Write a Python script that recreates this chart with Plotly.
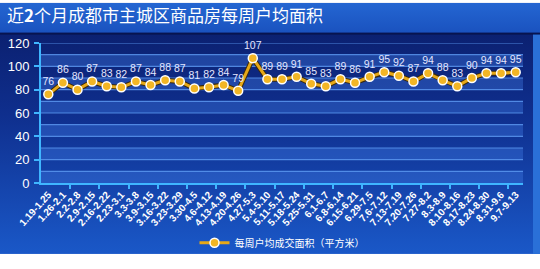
import base64
import plotly.graph_objects as go

weeks = ["1.19-1.25", "1.26-2.1", "2.2-2.8", "2.9-2.15", "2.16-2.22", "2.23-3.1",
         "3.3-3.8", "3.9-3.15", "3.16-3.22", "3.23-3.29", "3.30-4.5", "4.6-4.12",
         "4.13-4.19", "4.20-4.26", "4.27-5.3", "5.4-5.10", "5.11-5.17", "5.18-5.24",
         "5.25-5.31", "6.1-6.7", "6.8-6.14", "6.15-6.21", "6.29-7.5", "7.6-7.12",
         "7.13-7.19", "7.20-7.26", "7.27-8.2", "8.3-8.9", "8.10-8.16", "8.17-8.23",
         "8.24-8.30", "8.31-9.6", "9.7-9.13"]
area = [76, 86, 80, 87, 83, 82, 87, 84, 88, 87, 81, 82, 84, 79, 107, 89, 89, 91,
        85, 83, 89, 86, 91, 95, 92, 87, 94, 88, 83, 90, 94, 94, 95]
y_ticks = [0, 20, 40, 60, 80, 100, 120]
title_text = "近<b>2</b>个月成都市主城区商品房每周户均面积"
series_name = "每周户均成交面积（平方米）"

W, H = 540, 269
ML, MR, MT, MB = 41, 17, 43, 76
PW, PH = W - ML - MR, H - MT - MB

def px_to_paper_y(py):
    return (H - MB - py) / PH

def px_to_paper_x(px):
    return (px - ML) / PW

svg = f'''<svg xmlns="http://www.w3.org/2000/svg" width="{W}" height="{H}" preserveAspectRatio="none" viewBox="0 0 {W} {H}">
<defs><linearGradient id="g" x1="0" y1="0" x2="0" y2="1">
<stop offset="0" stop-color="#0a1b66"/>
<stop offset="0.45" stop-color="#0f2f8e"/>
<stop offset="1" stop-color="#1a58c8"/>
</linearGradient>
<linearGradient id="t" x1="0" y1="0" x2="0" y2="1">
<stop offset="0" stop-color="#2466d2"/>
<stop offset="1" stop-color="#1a52bf"/>
</linearGradient></defs>
<rect x="0" y="0" width="{W}" height="{H}" fill="url(#g)"/>
<rect x="0" y="0" width="{W}" height="32" fill="url(#t)"/>
<rect x="0" y="32" width="{W}" height="2" fill="#08144f"/>
<rect x="533" y="34" width="7" height="{H-34}" fill="#2a70d8"/>
</svg>'''
src = "data:image/svg+xml;base64," + base64.b64encode(svg.encode()).decode()

x_idx = list(range(len(weeks)))

fig = go.Figure()
fig.add_trace(go.Scatter(x=x_idx, y=area, mode="lines",
                         line=dict(color="#3a2a10", width=5),
                         hoverinfo="skip", showlegend=False))
fig.add_trace(go.Scatter(
    x=x_idx, y=area, mode="lines+markers+text", name=series_name,
    line=dict(color="#e6a817", width=3),
    marker=dict(size=9, color="#f2b625", line=dict(color="#ffffff", width=1.5)),
    text=[str(v) for v in area], textposition="top center",
    textfont=dict(family="Liberation Sans, Arial", size=10.5, color="#e4e6ff"),
    cliponaxis=False))
fig.add_trace(go.Scatter(x=[0], y=[0], xaxis="x2", mode="markers",
                         marker=dict(opacity=0), showlegend=False, hoverinfo="skip"))

shapes = []
for lo in range(0, 120, 20):
    shapes.append(dict(type="rect", xref="paper", yref="y", x0=0, x1=1, y0=lo, y1=lo + 10,
                       fillcolor="rgba(70,130,235,0.35)", line=dict(width=0), layer="below"))
for lv in range(10, 121, 10):
    shapes.append(dict(type="line", xref="paper", yref="y", x0=0, x1=1, y0=lv, y1=lv,
                       line=dict(color="rgba(90,150,240,0.85)", width=1.2), layer="below"))

fig.update_layout(
    width=W, height=H,
    margin=dict(l=ML, r=MR, t=MT, b=MB),
    paper_bgcolor="rgba(0,0,0,0)", plot_bgcolor="rgba(0,0,0,0)",
    images=[dict(source=src, xref="paper", yref="paper",
                 x=px_to_paper_x(0), y=px_to_paper_y(0),
                 sizex=W / PW, sizey=H / PH, sizing="stretch",
                 xanchor="left", yanchor="top", layer="below")],
    shapes=shapes,
    title=dict(text=title_text, x=7 / W, xanchor="left", y=1 - 16 / H, yanchor="middle",
               font=dict(family="Noto Sans CJK SC", size=17, color="#ffffff")),
    xaxis=dict(range=[-0.5, len(weeks) - 0.5], tickvals=x_idx,
               ticktext=[f"<b>{w}</b>" for w in weeks],
               tickangle=-48, ticks="", showgrid=False, zeroline=False,
               showline=True, linecolor="#3fb6ff", linewidth=2, automargin=False,
               tickfont=dict(family="Liberation Sans, Arial", size=10, color="#ffffff"),
               fixedrange=True),
    xaxis2=dict(range=[-0.5, len(weeks) - 0.5], overlaying="x", anchor="y",
                side="bottom", tickvals=[i + 1.5 for i in range(0, len(weeks) - 1, 2)],
                ticks="outside", ticklen=5, tickwidth=2, tickcolor="#3fb6ff",
                showticklabels=False, showgrid=False, zeroline=False, showline=False,
                automargin=False),
    yaxis=dict(range=[0, 120], tickvals=y_ticks, ticks="outside", ticklen=5, tickwidth=2,
               tickcolor="#3fb6ff", showgrid=False, zeroline=False,
               showline=True, linecolor="#3fb6ff", linewidth=2, automargin=False,
               tickfont=dict(family="Liberation Sans, Arial", size=13, color="#ffffff"),
               ticklabelstandoff=2),
    showlegend=True,
    legend=dict(orientation="h", x=0.5, xanchor="center", y=px_to_paper_y(257),
                yanchor="middle", bgcolor="rgba(0,0,0,0)", itemwidth=30,
                font=dict(family="Noto Sans CJK SC", size=10, color="#ffffff")),
)
fig.update_yaxes(tickprefix="<b>", ticksuffix="</b>")

fig.write_html("out.html")
